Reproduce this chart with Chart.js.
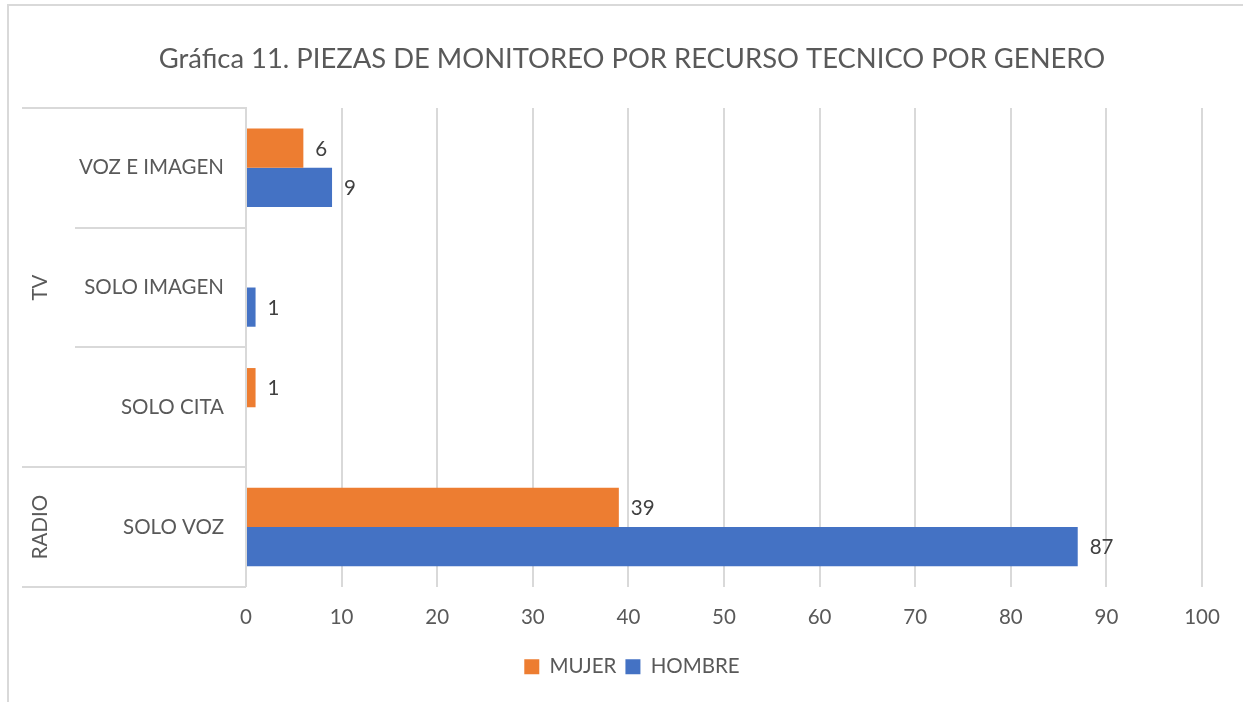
<!DOCTYPE html>
<html>
<head>
<meta charset="utf-8">
<script src="https://cdn.jsdelivr.net/npm/chart.js@4/dist/chart.umd.min.js"></script>
<style>
  html, body { margin: 0; padding: 0; background: #fff; overflow: hidden; }
  #frame { position: absolute; left: 7px; top: 4px; width: 1400px; height: 900px; border: 2px solid #d9d9d9; }
  #wrap { position: absolute; left: 0; top: 0; width: 1243px; height: 702px; }
</style>
</head>
<body>
<div id="frame"></div>
<div id="wrap"><canvas id="myChart"></canvas></div>
<script>
// data
const categories = ['VOZ E IMAGEN', 'SOLO IMAGEN', 'SOLO CITA', 'SOLO VOZ'];
const groupLabels = ['TV', 'RADIO'];
const groupOf = [0, 0, 0, 1];
const mujer = [6, null, 1, 39];
const hombre = [9, 1, null, 87];
const xMax = 100;
const xStep = 10;

const FONT = 'Lato, "Open Sans", sans-serif';
const FS = 20.5;
const GREY = '#595959';
const LINE = '#d9d9d9';
const PAD_LEFT = 62;

// value labels at the end of each bar
const valueLabels = {
  id: 'valueLabels',
  afterDatasetsDraw(chart) {
    const ctx = chart.ctx;
    ctx.save();
    ctx.font = FS + 'px ' + FONT;
    ctx.fillStyle = '#404040';
    ctx.textAlign = 'left';
    ctx.textBaseline = 'middle';
    chart.data.datasets.forEach((ds, di) => {
      chart.getDatasetMeta(di).data.forEach((bar, i) => {
        if (ds.data[i] == null) return;
        ctx.fillText(ds.data[i], bar.x + 12, bar.y + 1);
      });
    });
    ctx.restore();
  }
};

// two level category axis: separators + rotated group names
const groupAxis = {
  id: 'groupAxis',
  afterDraw(chart) {
    const y = chart.scales.y;
    const ctx = chart.ctx;
    const n = categories.length;
    const edge = (i) => i === 0 ? y.top : i === n ? y.bottom :
      (y.getPixelForValue(i - 1) + y.getPixelForValue(i)) / 2;
    ctx.save();
    ctx.strokeStyle = LINE;
    ctx.lineWidth = 2;
    for (let i = 0; i <= n; i++) {
      const isGroup = i === 0 || i === n || groupOf[i] !== groupOf[i - 1];
      const yy = Math.round(edge(i));
      ctx.beginPath();
      ctx.moveTo(isGroup ? 22 : 75, yy);
      ctx.lineTo(y.right, yy);
      ctx.stroke();
    }
    ctx.font = FS + 'px ' + FONT;
    ctx.fillStyle = GREY;
    ctx.textAlign = 'center';
    ctx.textBaseline = 'middle';
    groupLabels.forEach((g, gi) => {
      const idx = groupOf.map((v, i) => v === gi ? i : -1).filter(i => i >= 0);
      const top = edge(idx[0]);
      const bottom = edge(idx[idx.length - 1] + 1);
      ctx.save();
      ctx.translate(40, (top + bottom) / 2);
      ctx.rotate(-Math.PI / 2);
      ctx.fillText(g, 0, 0);
      ctx.restore();
    });
    ctx.restore();
  }
};

var ctx = document.getElementById('myChart').getContext('2d');
var chart = new Chart(ctx, {
  type: 'bar',
  data: {
    labels: categories,
    datasets: [
      { label: 'MUJER', data: mujer, backgroundColor: '#ED7D31' },
      { label: 'HOMBRE', data: hombre, backgroundColor: '#4472C4' }
    ]
  },
  options: {
    indexAxis: 'y',
    responsive: true,
    maintainAspectRatio: false,
    animation: false,
    layout: { padding: { left: PAD_LEFT, right: 41, top: 0, bottom: 15 } },
    datasets: { bar: { categoryPercentage: 0.655, barPercentage: 1 } },
    scales: {
      x: {
        min: 0,
        max: xMax,
        ticks: { stepSize: xStep, color: GREY, font: { family: FONT, size: FS }, padding: 18 },
        grid: { color: LINE, lineWidth: 2, drawTicks: false },
        border: { display: false }
      },
      y: {
        ticks: { color: GREY, font: { family: FONT, size: FS }, padding: 22 },
        grid: { display: false, drawTicks: false },
        border: { display: true, color: LINE, width: 2 },
        afterFit(scale) { scale.width = 246 - PAD_LEFT; }
      }
    },
    plugins: {
      title: {
        display: true,
        text: 'Gráfica 11. PIEZAS DE MONITOREO POR RECURSO TECNICO POR GENERO',
        color: GREY,
        font: { family: FONT, size: 27.4, weight: 'normal' },
        padding: { top: 43, bottom: 32 }
      },
      legend: {
        position: 'bottom',
        labels: {
          color: GREY,
          font: { family: FONT, size: FS },
          boxWidth: 15,
          boxHeight: 15,
          padding: 9
        }
      },
      tooltip: { enabled: false }
    }
  },
  plugins: [valueLabels, groupAxis]
});
</script>
</body>
</html>
